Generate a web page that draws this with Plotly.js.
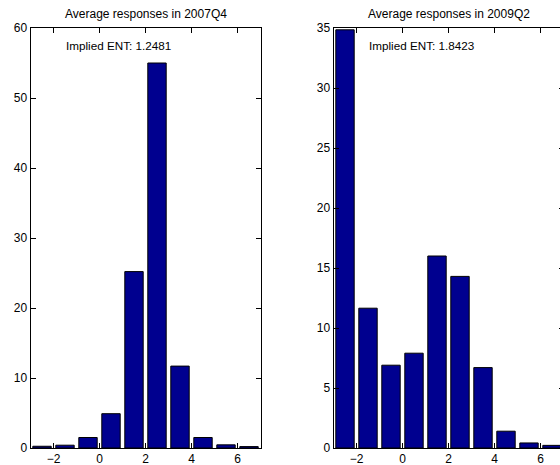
<!DOCTYPE html>
<html>
<head>
<meta charset="utf-8">
<script src="https://cdn.plot.ly/plotly-3.0.1.min.js"></script>
<style>
html, body { margin:0; padding:0; overflow:hidden; background:#fff; width:560px; height:465px; }
#chart { width:566px; height:465px; }
</style>
</head>
<body>
<div id="chart"></div>
<script>
// Bin centres (shared by both panels)
const bins = [-2.5, -1.5, -0.5, 0.5, 1.5, 2.5, 3.5, 4.5, 5.5, 6.5];
// Average responses, 2007Q4
const values2007Q4 = [0.25, 0.4, 1.5, 4.9, 25.2, 55.0, 11.7, 1.5, 0.45, 0.2];
// Average responses, 2009Q2
const values2009Q2 = [34.85, 11.65, 6.9, 7.9, 16.0, 14.3, 6.7, 1.4, 0.42, 0.22];
const titles = ["Average responses in 2007Q4", "Average responses in 2009Q2"];
const entLabels = ["Implied ENT: 1.2481", "Implied ENT: 1.8423"];
const xTicks = [-2, 0, 2, 4, 6];

const W = 566, H = 465;
const FONT = "Liberation Sans, Arial, Helvetica, sans-serif";
const barColor = "rgb(0,0,143)";

const traces = [
  { type: "bar", x: bins, y: values2007Q4, xaxis: "x", yaxis: "y", width: 0.8,
    marker: { color: barColor, line: { color: "#000", width: 1 } }, hoverinfo: "x+y" },
  { type: "bar", x: bins, y: values2009Q2, xaxis: "x2", yaxis: "y2", width: 0.8,
    marker: { color: barColor, line: { color: "#000", width: 1 } }, hoverinfo: "x+y" }
];

const px = v => v / W;
const axCommon = {
  showline: true, linecolor: "#000", linewidth: 1, mirror: "ticks",
  ticks: "inside", ticklen: 5, tickwidth: 1, tickcolor: "#000",
  showgrid: false, zeroline: false, fixedrange: true,
  tickfont: { family: FONT, size: 12, color: "#000" }
};

const layout = {
  width: W, height: H,
  margin: { l: 0, r: 0, t: 28, b: 17 },
  paper_bgcolor: "#fff", plot_bgcolor: "#fff",
  showlegend: false,
  font: { family: FONT, size: 12, color: "#000" },
  xaxis: Object.assign({}, axCommon, { domain: [px(30.5), px(260.5)], range: [-3, 7], tickvals: xTicks, anchor: "y" }),
  yaxis: Object.assign({}, axCommon, { domain: [0, 1], range: [0, 60], dtick: 10, anchor: "x" }),
  xaxis2: Object.assign({}, axCommon, { domain: [px(333.5), px(563.5)], range: [-3, 7], tickvals: xTicks, anchor: "y2" }),
  yaxis2: Object.assign({}, axCommon, { domain: [0, 1], range: [0, 35], dtick: 5, anchor: "x2" }),
  annotations: [
    { text: titles[0], xref: "x domain", yref: "paper", x: 0.5, y: 1.0333, xanchor: "center", yanchor: "middle",
      showarrow: false, font: { family: FONT, size: 12, color: "#000" } },
    { text: titles[1], xref: "x2 domain", yref: "paper", x: 0.5, y: 1.0333, xanchor: "center", yanchor: "middle",
      showarrow: false, font: { family: FONT, size: 12, color: "#000" } },
    { text: entLabels[0], xref: "x domain", yref: "y domain", x: 0.145, y: 0.9595, xanchor: "left", yanchor: "middle",
      showarrow: false, font: { family: FONT, size: 11.7, color: "#000" } },
    { text: entLabels[1], xref: "x2 domain", yref: "y2 domain", x: 0.145, y: 0.9595, xanchor: "left", yanchor: "middle",
      showarrow: false, font: { family: FONT, size: 11.7, color: "#000" } }
  ]
};

Plotly.newPlot("chart", traces, layout, { displayModeBar: false, staticPlot: true });
</script>
</body>
</html>
